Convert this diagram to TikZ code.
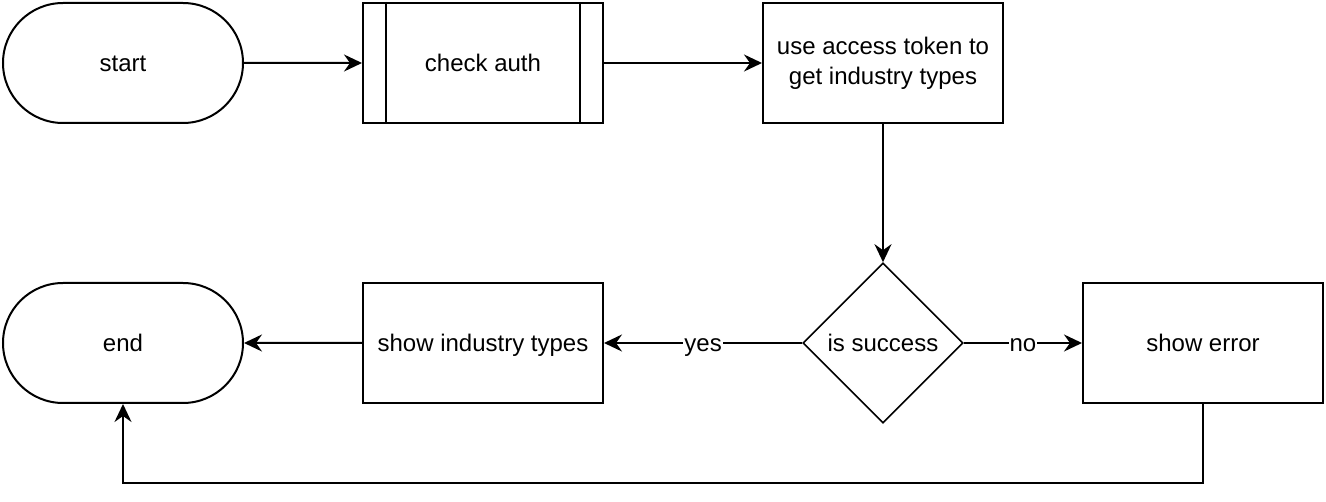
\documentclass[tikz,border=0pt]{standalone}
\usepackage{fontspec}
\setmainfont{Liberation Sans}
\usetikzlibrary{arrows.meta,shapes.geometric,shapes.misc}
\begin{document}
\begin{tikzpicture}[x=1pt,y=-1pt,
  base/.style={draw=black,line width=2pt,fill=white,align=center,font=\fontsize{24}{30}\selectfont,inner sep=0pt},
  flat/.style={text height=17pt,text depth=0pt},
  terminal/.style={base,flat,rounded rectangle,minimum width=240pt,minimum height=120pt},
  proc/.style={base,flat,rectangle,minimum width=240pt,minimum height=120pt},
  proctwo/.style={base,rectangle,minimum width=240pt,minimum height=120pt},
  decision/.style={base,flat,diamond,minimum width=160pt,minimum height=160pt,aspect=1,line width=1.6pt},
  conn/.style={line width=2pt,-{Stealth[length=18pt,width=17pt,inset=6pt]}},
  lbl/.style={fill=white,inner sep=1pt,text height=17pt,text depth=0pt,font=\fontsize{24}{30}\selectfont}]
\useasboundingbox (0,0) rectangle (1326,502);
\node[terminal] (start) at (123,63) {start};
\node[proc] (auth) at (483,63) {check auth};
\draw[line width=2pt] ([xshift=24pt]auth.north west) -- ([xshift=24pt]auth.south west);
\draw[line width=2pt] ([xshift=-24pt]auth.north east) -- ([xshift=-24pt]auth.south east);
\node[proctwo] (token) at (883,63) {use access token to\\get industry types};
\node[decision] (dec) at (883,343) {is success};
\node[proc] (err) at (1203,343) {show error};
\node[proc] (show) at (483,343) {show industry types};
\node[terminal] (end) at (123,343) {end};
\coordinate (c1) at (1203,483);
\coordinate (c2) at (123,483);
\draw[conn] (start) -- (auth);
\draw[conn] (auth) -- (token);
\draw[conn] (token) -- (dec);
\draw[conn] (dec) -- node[lbl,pos=0.5]{yes} (show);
\draw[conn] (dec) -- node[lbl,pos=0.5]{no} (err);
\draw[conn] (show) -- (end);
\draw[conn] (err.south) -- (c1) -- (c2) -- (end.south);
\end{tikzpicture}
\end{document}
